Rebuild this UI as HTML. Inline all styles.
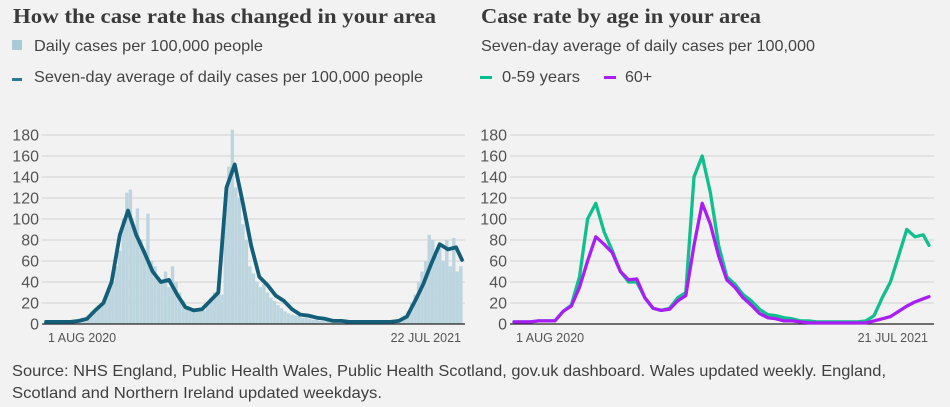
<!DOCTYPE html>
<html><head><meta charset="utf-8"><style>
html,body{margin:0;padding:0;background:#f2f2f2;}
svg{display:block;font-family:"Liberation Sans",sans-serif;}
</style></head><body>
<svg id="c" width="950" height="407" viewBox="0 0 950 407">
<rect x="0" y="0" width="950" height="407" fill="#f2f2f2"/>
<text x="13" y="23" font-family="Liberation Serif,serif" font-weight="bold" font-size="21" fill="#3a3a3a" textLength="423" lengthAdjust="spacingAndGlyphs">How the case rate has changed in your area</text>
<rect x="12" y="40" width="10" height="10" fill="#a8cad6"/>
<text x="34" y="51" font-size="16" fill="#444" textLength="229" lengthAdjust="spacingAndGlyphs">Daily cases per 100,000 people</text>
<rect x="12" y="78" width="10" height="3" fill="#2e7a96"/>
<text x="34" y="82" font-size="16" fill="#444" textLength="389" lengthAdjust="spacingAndGlyphs">Seven-day average of daily cases per 100,000 people</text>
<text x="481" y="23" font-family="Liberation Serif,serif" font-weight="bold" font-size="21" fill="#3a3a3a" textLength="280" lengthAdjust="spacingAndGlyphs">Case rate by age in your area</text>
<text x="481" y="51" font-size="16" fill="#444" textLength="334" lengthAdjust="spacingAndGlyphs">Seven-day average of daily cases per 100,000</text>
<rect x="480" y="76" width="12" height="3" fill="#00c08b"/>
<text x="502" y="82" font-size="16" fill="#444" textLength="78" lengthAdjust="spacingAndGlyphs">0-59 years</text>
<rect x="604" y="76" width="12" height="3" fill="#a91ef5"/>
<text x="625" y="82" font-size="16" fill="#444">60+</text>
<text x="12" y="376" font-size="16" fill="#404040" textLength="874" lengthAdjust="spacingAndGlyphs">Source: NHS England, Public Health Wales, Public Health Scotland, gov.uk dashboard. Wales updated weekly. England,</text>
<text x="12" y="398" font-size="16" fill="#404040" textLength="370" lengthAdjust="spacingAndGlyphs">Scotland and Northern Ireland updated weekdays.</text>
<g id="left"></g>
<g id="right"></g>
</svg>
<script>
const yTicks = [0,20,40,60,80,100,120,140,160,180];
const totalDays = 355;
const dailyCases = [2,3,2,2,3,3,2,3,3,3,4,5,8,12,14,18,20,25,32,40,55,70,100,125,128,95,110,80,70,105,60,55,45,40,50,35,55,40,30,22,15,13,12,14,15,13,18,25,30,35,28,110,150,185,130,120,95,80,55,48,40,35,38,30,25,22,18,15,12,10,9,8,8,6,6,5,4,4,3,3,3,2,2,2,2,2,2,2,2,2,2,2,3,3,2,2,2,3,3,3,4,5,8,12,20,28,40,50,60,85,80,65,75,60,80,55,82,50,55];
const avgAll = [2,2,2,2,3,5,13,20,40,85,108,85,68,50,40,42,28,16,13,14,22,30,130,152,115,75,45,37,27,22,14,9,8,6,5,3,3,2,2,2,2,2,2,3,7,22,38,58,76,71,73,61];
const young = [2,2,2,3,3,3,12,18,45,100,115,88,70,50,40,40,25,15,13,15,25,30,140,160,125,75,45,38,28,22,14,9,8,6,5,3,3,2,2,2,2,2,2,3,8,25,40,65,90,83,85,75];
const old = [2,2,2,3,3,3,12,17,35,60,83,76,68,50,42,43,25,15,13,14,22,27,75,115,95,65,42,35,25,18,10,6,5,3,3,2,1,1,1,1,1,1,1,1,3,5,7,12,17,21,24,26];
const leftDates = ["1 AUG 2020","22 JUL 2021"];
const rightDates = ["1 AUG 2020","21 JUL 2021"];
const NS="http://www.w3.org/2000/svg";
function mk(parent,tag,attrs){const e=document.createElementNS(NS,tag);for(const k in attrs)e.setAttribute(k,attrs[k]);parent.appendChild(e);return e;}
function axes(g,gx0,gx1,dx0,dx1,dates){
  const y=v=>324-v*1.05;
  const xd=d=>dx0+(dx1-dx0)*d/totalDays;
  yTicks.forEach(t=>{
    if(t>0){const l=mk(g,'line',{x1:gx0,x2:gx1,y1:y(t),y2:y(t),stroke:'#d3d3d3','stroke-width':1});
    
    }
    const tx=mk(g,'text',{x:gx0-3,y:y(t)+5.5,'text-anchor':'end','font-size':16,fill:'#555'});tx.textContent=t;
    
    
  });
  const a=mk(g,'text',{x:dx0+2,y:342,'font-size':12.5,fill:'#555'});a.textContent=dates[0];
  
  
  const b=mk(g,'text',{x:dx1-1,y:342,'text-anchor':'end','font-size':12.5,fill:'#555'});b.textContent=dates[1];
  
  
  return {y,xd};
}
function baseline(g,gx0,gx1){const l=mk(g,'line',{x1:gx0,x2:gx1,y1:324,y2:324,stroke:'#222','stroke-width':1.2});
  
  }
function line(g,arr,xd,y,color,w,name){
  const pts=arr.map((v,i)=>{const d=Math.min(i*7,totalDays);return xd(d).toFixed(1)+','+y(v).toFixed(1);}).join(' ');
  const p=mk(g,'polyline',{points:pts,fill:'none',stroke:color,'stroke-width':w,'stroke-linejoin':'round','stroke-linecap':'round'});
  
  
}
const L=document.getElementById('left');
const la=axes(L,42,465,46,462,leftDates);
dailyCases.forEach((v,i)=>{
  const x=la.xd(i*3);
  const r=mk(L,'rect',{x:x-1.7,y:la.y(v),width:3.4,height:324-la.y(v),fill:'#bcd5de'});
  
  
});
baseline(L,42,465);
line(L,avgAll,la.xd,la.y,'#135e78',3.8,'seven-day-average-line');
const R=document.getElementById('right');
const ra=axes(R,510,934,514,929,rightDates);
baseline(R,510,934);
line(R,young,ra.xd,ra.y,'#0fbf8c',3.3,'young-line');
line(R,old,ra.xd,ra.y,'#a91ef5',3.3,'old-line');
</script>
</body></html>
